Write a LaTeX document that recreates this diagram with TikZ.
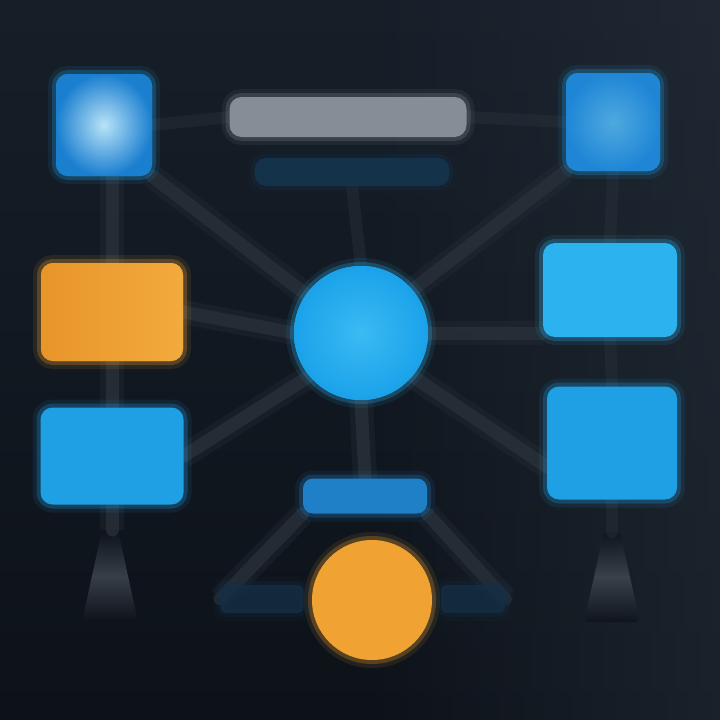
\documentclass[tikz,border=0pt]{standalone}
\usetikzlibrary{fadings,calc}
\definecolor{bgtop}{HTML}{161E28}
\definecolor{bgbot}{HTML}{0D1219}
\definecolor{bgright}{HTML}{2A3440}
\definecolor{clink}{HTML}{29313B}
\definecolor{cblue}{HTML}{1F9FE4}
\definecolor{cbright}{HTML}{2DB2F0}
\definecolor{corange}{HTML}{F0A232}
\definecolor{ctitle}{HTML}{868D96}
\definecolor{csub}{HTML}{15324B}
\definecolor{cbar}{HTML}{1F80C8}
\definecolor{cfaint}{HTML}{142E45}
\definecolor{clamp}{HTML}{454D57}
\pgfdeclarelayer{bglayer}
\pgfdeclarelayer{linklayer}
\pgfsetlayers{bglayer,linklayer,main}
\begin{document}
\begin{tikzpicture}[x=1pt,y=-1pt,
  glow/.style={preaction={draw=#1,line width=16pt,draw opacity=0.1},
               preaction={draw=#1,line width=8pt,draw opacity=0.25}},
  box/.style={rectangle,rounded corners=12pt,inner sep=0pt,draw=none,fill=#1,glow=#1},
  roundel/.style={circle,inner sep=0pt,draw=none,fill=#1,glow=#1},
  link/.style={draw=clink,line width=13pt,line cap=round,draw opacity=0.75,
               preaction={draw=clink,line width=24pt,draw opacity=0.3}},
  faintlink/.style={draw=clink,line width=12pt,line cap=round,draw opacity=0.45},
  lampshade/.style={top color=bgbot,bottom color=bgbot,middle color=clamp,opacity=0.75}
]
% background
\begin{pgfonlayer}{bglayer}
\shade[top color=bgtop,bottom color=bgbot] (0,0) rectangle (720,720);
\fill[bgright,path fading=west,opacity=0.45] (360,0) rectangle (720,720);
\end{pgfonlayer}
\useasboundingbox (0,0) rectangle (720,720);

% nodes
\node[box=cblue,minimum width=96pt,minimum height=102pt,
      inner color={rgb,255:red,185;green,227;blue,247},outer color={rgb,255:red,27;green,127;blue,208}] (tl) at (104,125) {};
\node[box=cblue,minimum width=94pt,minimum height=98pt,
      inner color={rgb,255:red,79;green,169;blue,223},outer color={rgb,255:red,31;green,134;blue,214}] (tr) at (613,122) {};
\node[box=ctitle,minimum width=237pt,minimum height=40pt] (title) at (348,117) {};
\node[box=csub,minimum width=195pt,minimum height=28pt] (sub) at (352,172) {};
\node[box=corange,minimum width=142pt,minimum height=98pt,
      left color={rgb,255:red,232;green,149;blue,42},right color={rgb,255:red,243;green,170;blue,60}] (ol) at (112,312) {};
\node[box=cblue,minimum width=143pt,minimum height=97pt] (bl) at (112,456) {};
\node[box=cbright,minimum width=134pt,minimum height=94pt] (br1) at (610,290) {};
\node[box=cblue,minimum width=130pt,minimum height=113pt] (br2) at (612,443) {};
\node[roundel=cbright,minimum size=134pt,
      inner color={rgb,255:red,60;green,186;blue,243},outer color={rgb,255:red,26;green,162;blue,234}] (cc) at (361,333) {};
\node[box=cbar,rounded corners=10pt,minimum width=124pt,minimum height=35pt] (bar) at (365,496) {};
\node[roundel=corange,minimum size=120pt] (oc) at (372,600) {};
\node[box=cfaint,rounded corners=6pt,minimum width=83pt,minimum height=28pt,opacity=0.8] (fbl) at (262,599) {};
\node[box=cfaint,rounded corners=6pt,minimum width=64pt,minimum height=28pt,opacity=0.8] (fbr) at (473,599) {};
\coordinate (lampl) at (110,530);
\coordinate (lampr) at (612,532);

% lamps
\begin{pgfonlayer}{linklayer}
\shade[lampshade,rounded corners=4pt] ($(lampl)+(-8,0)$) -- ($(lampl)+(8,0)$) -- ($(lampl)+(28,92)$) -- ($(lampl)+(-28,92)$) -- cycle;
\shade[lampshade,rounded corners=4pt] ($(lampr)+(-8,0)$) -- ($(lampr)+(8,0)$) -- ($(lampr)+(28,90)$) -- ($(lampr)+(-28,90)$) -- cycle;
% connectors
\draw[faintlink] (tl.east) -- (title.west);
\draw[faintlink] (title.east) -- (tr.west);
\draw[link] (ol.north) -- (ol.north |- tl.south);
\draw[link] (tl.south east) -- (cc.145);
\draw[link] (ol.east) -- (cc.west);
\draw[link] (ol.south) -- (bl.north);
\draw[link] (cc.220) -- (bl.east);
\draw[faintlink] (sub.south) -- (cc.north);
\draw[link] (cc.south) -- (bar.north);
\draw[link] (cc.40) -- (tr.south west);
\draw[link] (cc.east) -- (cc.east -| br1.west);
\draw[link] (cc.-40) -- (br2.200);
\draw[faintlink] (tr.south) -- (br1.north);
\draw[faintlink] (br1.south) -- (br2.north);
\draw[link] (bl.south) -- (bl.south |- lampl);
\draw[faintlink] (br2.south) -- (lampr);
\draw[link] (bar.south west) -- (fbl.west);
\draw[link] (bar.south east) -- (fbr.east);
\end{pgfonlayer}
\end{tikzpicture}
\end{document}
